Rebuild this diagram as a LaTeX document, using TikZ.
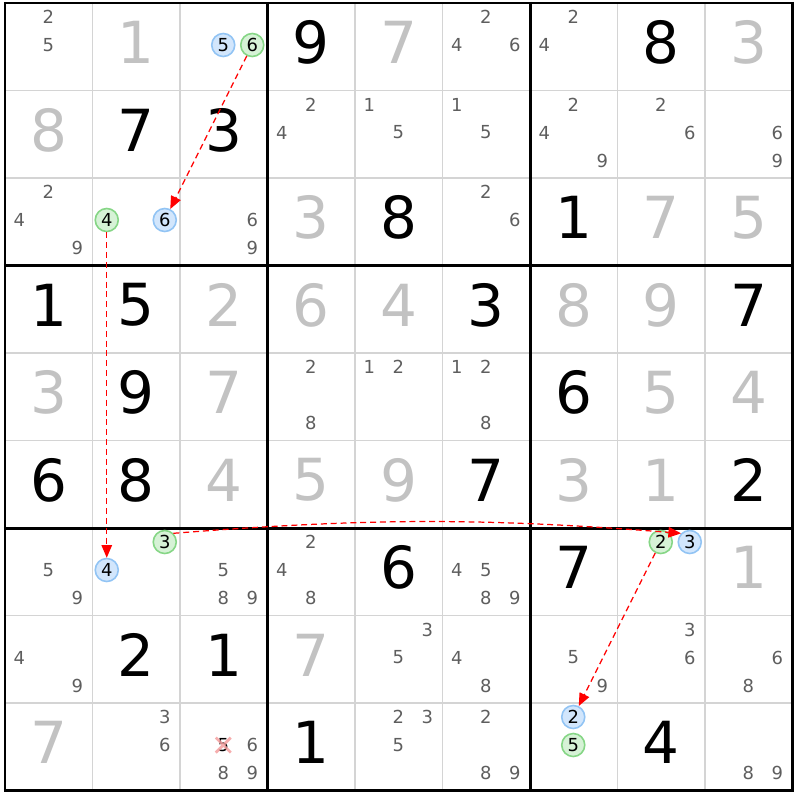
\documentclass[tikz,border=0pt]{standalone}
\usepackage{fontspec}
\setmainfont{DejaVu Sans}
\usetikzlibrary{arrows.meta}

\definecolor{gridgrey}{HTML}{D4D4D4}
\definecolor{solvedgrey}{HTML}{C2C2C2}
\definecolor{pencilgrey}{HTML}{5E5E5E}
\definecolor{onfill}{HTML}{D6F2D6}
\definecolor{ondraw}{HTML}{86D686}
\definecolor{offfill}{HTML}{D2E6FC}
\definecolor{offdraw}{HTML}{92C4F4}
\definecolor{crosspink}{HTML}{F4A0A0}

\tikzset{
  cell at/.style 2 args={at={({5+87.5*(#2-0.5)},{3+87.5*(#1-0.5)})}},
  mark at/.style n args={3}{at={({5+87.5*(#2-0.5)+29*(mod(#3-1,3)-1)-0.5},{3+87.5*(#1-0.5)+28*(floor((#3-1)/3)-1)-1.75})}},
}

\begin{document}
\begin{tikzpicture}[x=0.01cm,y=-0.01cm,>={Triangle[length=3.6pt,width=3pt]},
  given/.style={font=\fontsize{16.5}{17}\selectfont,text=black,yshift=0.4mm},
  solved/.style={given,text=solvedgrey},
  pencil/.style={font=\fontsize{5.1}{6}\selectfont,text=pencilgrey,inner sep=0pt},
  onlink/.style={circle,draw=ondraw,fill=onfill,line width=0.45pt,inner sep=0pt,minimum size=0.23cm,font=\fontsize{5.1}{6}\selectfont},
  offlink/.style={onlink,draw=offdraw,fill=offfill},
  link/.style={->,red,line width=0.35pt,dash pattern=on 1.7pt off 1.1pt}]

  \useasboundingbox (0,0) rectangle (800,800);

  % grid
  \foreach \i in {1,...,8} {
    \draw[gridgrey,line width=0.55pt] ({5+87.5*\i},3) -- ({5+87.5*\i},790.5);
    \draw[gridgrey,line width=0.55pt] (5,{3+87.5*\i}) -- (792.5,{3+87.5*\i});
  }
  \foreach \i in {0,3,6,9} {
    \draw[black,line width=0.85pt] ({5+87.5*\i},1.8) -- ({5+87.5*\i},791.7);
    \draw[black,line width=0.85pt] (3.8,{3+87.5*\i}) -- (793.7,{3+87.5*\i});
  }

  % big digits
  \foreach \r/\c/\d in {1/4/9, 1/8/8, 2/2/7, 2/3/3, 3/5/8, 3/7/1, 4/1/1, 4/2/5, 4/6/3, 4/9/7,
      5/2/9, 5/7/6, 6/1/6, 6/2/8, 6/6/7, 6/9/2, 7/5/6, 7/7/7, 8/2/2, 8/3/1, 9/4/1, 9/8/4}
    \node[given,cell at={\r}{\c}] (g\r\c) {\d};
  \foreach \r/\c/\d in {1/2/1, 1/5/7, 1/9/3, 2/1/8, 3/4/3, 3/8/7, 3/9/5, 4/3/2, 4/4/6, 4/5/4,
      4/7/8, 4/8/9, 5/1/3, 5/3/7, 5/8/5, 5/9/4, 6/3/4, 6/4/5, 6/5/9, 6/7/3, 6/8/1, 7/9/1, 8/4/7, 9/1/7}
    \node[solved,cell at={\r}{\c}] (s\r\c) {\d};

  % pencil marks
  \foreach \r/\c/\ds in {1/1/{2,5}, 1/6/{2,4,6}, 1/7/{2,4},
      2/4/{2,4}, 2/5/{1,5}, 2/6/{1,5}, 2/7/{2,4,9}, 2/8/{2,6}, 2/9/{6,9},
      3/1/{2,4,9}, 3/3/{6,9}, 3/6/{2,6},
      5/4/{2,8}, 5/5/{1,2}, 5/6/{1,2,8},
      7/1/{5,9}, 7/3/{5,8,9}, 7/4/{2,4,8}, 7/6/{4,5,8,9},
      8/1/{4,9}, 8/5/{3,5}, 8/6/{4,8}, 8/7/{5,9}, 8/8/{3,6}, 8/9/{6,8},
      9/2/{3,6}, 9/3/{6,8,9}, 9/5/{2,3,5}, 9/6/{2,8,9}, 9/9/{8,9}}
    \foreach \d in \ds
      \node[pencil,mark at={\r}{\c}{\d}] (p\r\c-\d) {\d};

  % eliminated candidate
  \node[pencil,text=black,mark at={9}{3}{5}] (p93-5) {5};
  \draw[crosspink,line width=0.8pt,opacity=0.85]
    ([shift={(-7.5,-7.5)}]p93-5.center) -- ([shift={(7.5,7.5)}]p93-5.center)
    ([shift={(-7.5,7.5)}]p93-5.center) -- ([shift={(7.5,-7.5)}]p93-5.center);

  % chain candidates
  \node[offlink,mark at={1}{3}{5}] (c13-5) {5};
  \node[onlink,mark at={1}{3}{6}] (c13-6) {6};
  \node[onlink,mark at={3}{2}{4}] (c32-4) {4};
  \node[offlink,mark at={3}{2}{6}] (c32-6) {6};
  \node[onlink,mark at={7}{2}{3}] (c72-3) {3};
  \node[offlink,mark at={7}{2}{4}] (c72-4) {4};
  \node[onlink,mark at={7}{8}{2}] (c78-2) {2};
  \node[offlink,mark at={7}{8}{3}] (c78-3) {3};
  \node[offlink,mark at={9}{7}{2}] (c97-2) {2};
  \node[onlink,mark at={9}{7}{5}] (c97-5) {5};

  \path[link]
    (c13-6) edge (c32-6)
    (c32-4) edge (c72-4)
    (c72-3.north east) edge[bend left=4.5] (c78-3.north west)
    (c78-2) edge (c97-2)
    ;
\end{tikzpicture}
\end{document}
